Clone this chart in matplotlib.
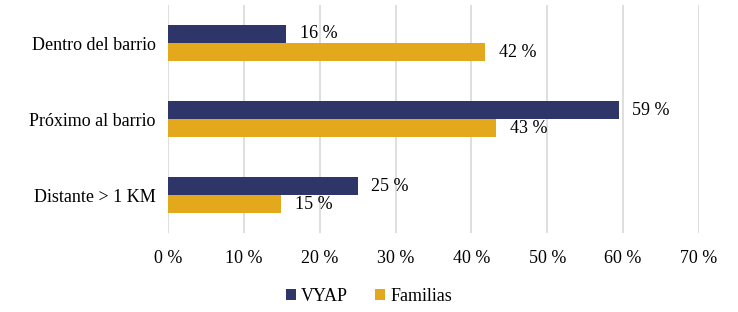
import numpy as np
import matplotlib.pyplot as plt

categorias = ['Dentro del barrio', 'Próximo al barrio', 'Distante > 1 KM']
vyap = [15.6, 59.4, 25.0]
familias = [41.8, 43.3, 14.9]
etiq_vyap = ['16 %', '59 %', '25 %']
etiq_familias = ['42 %', '43 %', '15 %']

plt.rcParams['font.family'] = ['Liberation Serif', 'DejaVu Serif']

fig = plt.figure(figsize=(7.38, 3.12), dpi=100)
ax = fig.add_axes([0.2276, 0.253, 0.7195, 0.731])

y = np.arange(len(categorias))
h = 0.237
ax.barh(y - h / 2, vyap, height=h, color='#2E3669', label='VYAP', zorder=3)
ax.barh(y + h / 2, familias, height=h, color='#E3A81C', label='Familias', zorder=3)

fs = 13
for i in range(len(categorias)):
    ax.text(vyap[i] + 1.8, y[i] - h / 2, etiq_vyap[i], va='center', ha='left', fontsize=fs)
    ax.text(familias[i] + 1.8, y[i] + h / 2, etiq_familias[i], va='center', ha='left', fontsize=fs)

ax.set_ylim(2.5, -0.5)
ax.set_xlim(0, 70)
ax.set_xticks(range(0, 71, 10))
ax.set_xticklabels([f'{v} %' for v in range(0, 71, 10)], fontsize=fs)
ax.set_yticks(y)
ax.set_yticklabels(categorias, fontsize=fs)
ax.tick_params(length=0, pad=12)
ax.tick_params(axis='y', pad=9)
ax.grid(axis='x', color='#D9D9D9', linewidth=1.2, zorder=0)
for s in ax.spines.values():
    s.set_visible(False)

fig.legend(loc='center', bbox_to_anchor=(0.5, 0.05), ncol=2, frameon=False,
           fontsize=fs, handlelength=0.55, handleheight=0.55, handletextpad=0.3,
           columnspacing=1.5)

fig.savefig('out.png', dpi=100)
